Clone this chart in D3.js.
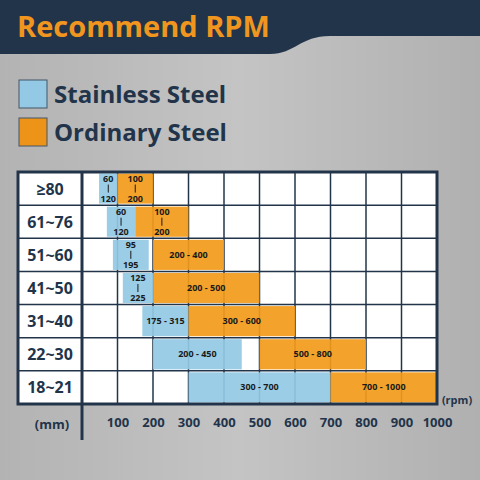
<!DOCTYPE html><html><head><meta charset="utf-8"><script src="https://cdn.jsdelivr.net/npm/d3@7"></script>
<style>body{margin:0}</style></head><body><svg id="c" width="480" height="480"></svg><script>
const categories=["≥80","61~76","51~60","41~50","31~40","22~30","18~21"];
const stainlessStart=[48,70,87,115,170,200,300];
const stainlessEnd=[100,150,188,200,300,450,700];
const stainlessLabels=[["60","120"],["60","120"],["95","195"],["125","225"],["175 - 315"],["200 - 450"],["300 - 700"]];
const ordinaryStart=[100,150,200,200,300,500,700];
const ordinaryEnd=[200,300,400,500,600,800,1000];
const ordinaryLabels=[["100","200"],["100","200"],["200 - 400"],["200 - 500"],["300 - 600"],["500 - 800"],["700 - 1000"]];
const ticks=[100,200,300,400,500,600,700,800,900,1000];
const F="'Open Sans','Noto Sans',sans-serif";
const svg=d3.select("#c");
const defs=svg.append("defs");
const g=defs.append("linearGradient").attr("id","bg").attr("x1",0).attr("x2",1);
g.append("stop").attr("offset",0).attr("stop-color","#b3b3b3");
g.append("stop").attr("offset",0.5).attr("stop-color","#c4c4c4");
g.append("stop").attr("offset",1).attr("stop-color","#b0b0b0");
svg.append("rect").attr("width",480).attr("height",480).attr("fill","url(#bg)");
svg.append("path").attr("d","M0,0H480V36H330C300,36 295,54 270,54H0Z").attr("fill","#22344a");
svg.append("text").attr("x",17).attr("y",37).attr("fill","#f0961e").attr("font-family",F).attr("font-weight",700).attr("font-size",29).text("Recommend RPM");
const leg=[["Stainless Steel","#93c9e4"],["Ordinary Steel","#ed9418"]];
leg.forEach((d,i)=>{const y=80+i*38;
svg.append("rect").attr("x",19).attr("y",y).attr("width",28).attr("height",28).attr("fill",d[1]).attr("stroke","#445566");
svg.append("text").attr("x",54).attr("y",y+23).attr("fill","#22344a").attr("font-family",F).attr("font-weight",700).attr("font-size",24).text(d[0]);});
const x=d3.scaleLinear().domain([0,1000]).range([82,437]);
const y=d3.scaleBand().domain(categories).range([172,404]);
const ink="#22344a";
svg.append("rect").attr("x",18).attr("y",172).attr("width",419).attr("height",232).attr("fill","#fff");
const gr=svg.append("g").attr("stroke",ink).attr("stroke-width",1.5);
ticks.forEach(t=>gr.append("line").attr("x1",x(t)).attr("x2",x(t)).attr("y1",172).attr("y2",404));
categories.forEach(c=>gr.append("line").attr("x1",18).attr("x2",437).attr("y1",y(c)).attr("y2",y(c)));
const bars=svg.append("g");
function draw(s,e,lab,col){categories.forEach((c,i)=>{
 const x0=x(s[i]),x1=x(e[i]),yy=y(c)+1.5,h=y.bandwidth()-3;
 bars.append("rect").attr("x",x0).attr("y",yy).attr("width",x1-x0).attr("height",h).attr("fill",col).attr("opacity",0.92);
 const cx=(x0+x1)/2,cy=y(c)+y.bandwidth()/2;
 const t=bars.append("g").attr("font-family",F).attr("font-weight",700).attr("font-size",9).attr("fill","#1a1a1a").attr("text-anchor","middle");
 if(lab[i].length===2){t.append("text").attr("x",cx).attr("y",cy-7).text(lab[i][0]);
  t.append("text").attr("x",cx).attr("y",cy+13).text(lab[i][1]);
  t.append("line").attr("x1",cx).attr("x2",cx).attr("y1",cy-4).attr("y2",cy+4).attr("stroke","#1a1a1a").attr("stroke-width",1);}
 else t.append("text").attr("x",cx).attr("y",cy+3).text(lab[i][0]);});}
draw(stainlessStart,stainlessEnd,stainlessLabels,"#93c9e4");
draw(ordinaryStart,ordinaryEnd,ordinaryLabels,"#f29a1a");
svg.append("rect").attr("x",18).attr("y",172).attr("width",419).attr("height",232).attr("fill","none").attr("stroke",ink).attr("stroke-width",3);
svg.append("line").attr("x1",82).attr("x2",82).attr("y1",172).attr("y2",440).attr("stroke",ink).attr("stroke-width",3);
categories.forEach(c=>svg.append("text").attr("x",50).attr("y",y(c)+y.bandwidth()/2+6).attr("text-anchor","middle").attr("font-family",F).attr("font-weight",700).attr("font-size",16).attr("fill",ink).text(c));
const ax=svg.append("g").attr("transform","translate(0,404)").call(d3.axisBottom(x).tickValues(ticks).tickFormat(d3.format("d")).tickSize(0).tickPadding(14));
ax.select(".domain").remove();
ax.selectAll("text").attr("font-family",F).attr("font-weight",700).attr("font-size",13).attr("fill",ink);
svg.append("text").attr("x",52).attr("y",429).attr("text-anchor","middle").attr("font-family",F).attr("font-weight",700).attr("font-size",13).attr("fill",ink).text("(mm)");
svg.append("text").attr("x",457).attr("y",404).attr("text-anchor","middle").attr("font-family",F).attr("font-weight",700).attr("font-size",11).attr("fill",ink).text("(rpm)");
</script></body></html>
